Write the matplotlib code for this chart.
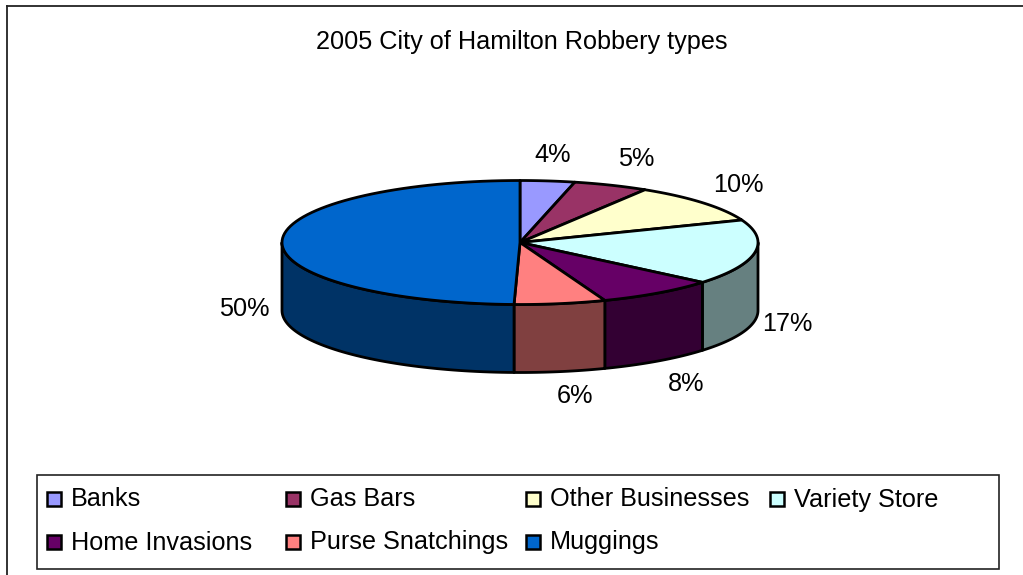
import matplotlib.pyplot as plt
import numpy as np
from matplotlib.patches import Polygon, Rectangle

plt.rcParams['font.family'] = 'Liberation Sans'

categories = ['Banks', 'Gas Bars', 'Other Businesses', 'Variety Store',
              'Home Invasions', 'Purse Snatchings', 'Muggings']
values = [3.7, 5.1, 10.3, 17.0, 8.1, 6.2, 49.6]
colors = ['#9999FF', '#993366', '#FFFFCC', '#CCFFFF', '#660066', '#FF8080', '#0066CC']
side_colors = ['#4D4D80', '#4D1A33', '#808066', '#668080', '#330033', '#804040', '#003366']

# layout, in pixels of the picture
cx, cy, rx, ry, depth = 520, 242.5, 238, 62, 68
label_xy = [(553, 155), (636, 159), (738, 185), (787, 324), (686, 384), (575, 396), (244, 309)]
legend_xy = [(47, 498), (286, 498), (526, 498), (770, 498), (47, 541), (286, 541), (526, 541)]

fig = plt.figure(figsize=(10.23, 5.75), dpi=100)
ax = fig.add_axes([0, 0, 1, 1])
ax.set_xlim(0, 1023)
ax.set_ylim(575, 0)
ax.axis('off')


def rim(t):
    return cx + rx * np.sin(t), cy - ry * np.cos(t)


# chart frame runs off the right and bottom of the picture
ax.plot([7, 7], [575, 5.5], color='#222222', lw=1.3)
ax.plot([7, 1023], [5.5, 5.5], color='#222222', lw=1.3)

ax.text(522, 41.5, '2005 City of Hamilton Robbery types', fontsize=18.2, ha='center', va='center')

edges = np.radians(np.cumsum([0] + values) * 3.6)

# side walls, only the front half of the rim shows
for i in range(len(values)):
    a = max(edges[i], np.pi / 2)
    b = min(edges[i + 1], 3 * np.pi / 2)
    if b <= a:
        continue
    t = np.linspace(a, b, 60)
    x, y = rim(t)
    pts = np.r_[np.c_[x, y], np.c_[x[::-1], y[::-1] + depth]]
    ax.add_patch(Polygon(pts, fc=side_colors[i], ec='black', lw=2, joinstyle='round'))

# top of the pie
for i in range(len(values)):
    t = np.linspace(edges[i], edges[i + 1], 80)
    x, y = rim(t)
    pts = np.r_[[[cx, cy]], np.c_[x, y]]
    ax.add_patch(Polygon(pts, fc=colors[i], ec='black', lw=2, joinstyle='round'))

for v, (x, y) in zip(values, label_xy):
    ax.text(x, y, '%.0f%%' % v, fontsize=18.2, ha='center', va='center')

# legend
ax.add_patch(Rectangle((37, 475), 962, 94, fc='white', ec='#222222', lw=1.2))
for name, col, (x, y) in zip(categories, colors, legend_xy):
    ax.add_patch(Rectangle((x, y - 6), 14, 14, fc=col, ec='black', lw=1.8))
    ax.text(x + 24, y + 1.5, name, fontsize=18.2, ha='left', va='center')

fig.savefig('out.png', dpi=100)
